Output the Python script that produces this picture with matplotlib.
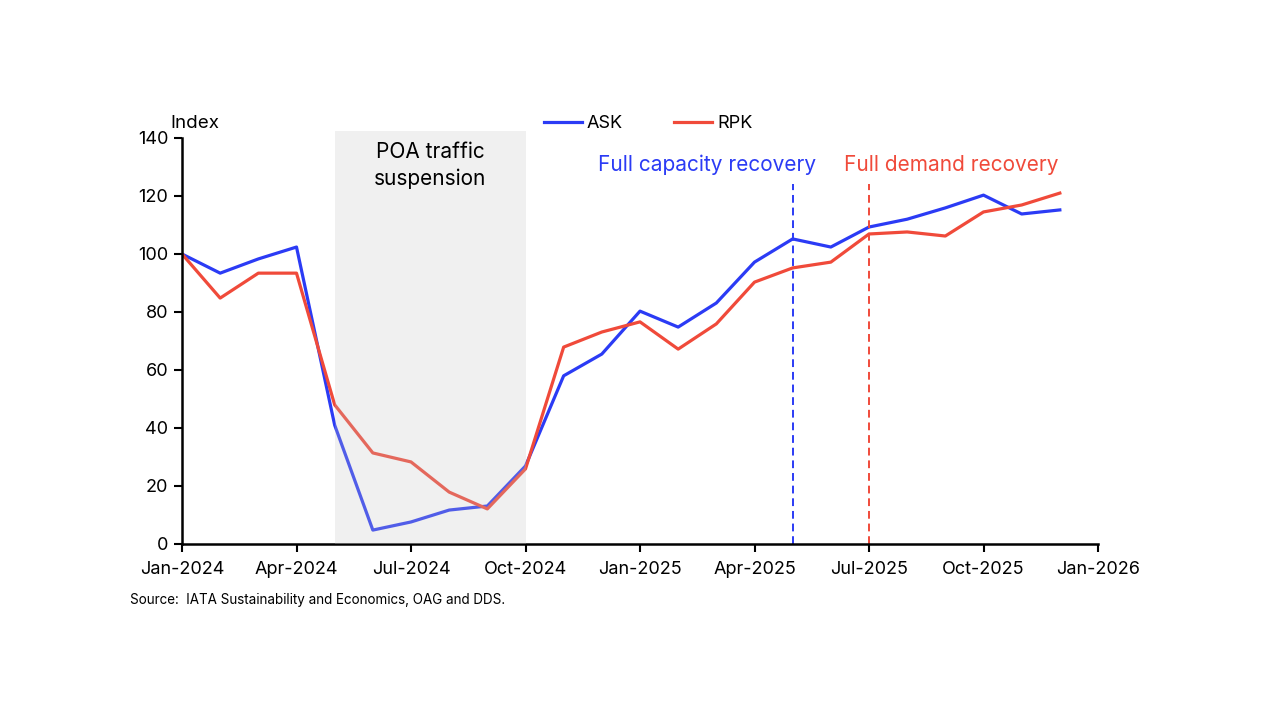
import matplotlib.pyplot as plt

plt.rcParams['font.family'] = ['Inter', 'DejaVu Sans']

# monthly index, Jan-2024 .. Dec-2025
months = ['Jan-2024', 'Feb-2024', 'Mar-2024', 'Apr-2024', 'May-2024', 'Jun-2024',
          'Jul-2024', 'Aug-2024', 'Sep-2024', 'Oct-2024', 'Nov-2024', 'Dec-2024',
          'Jan-2025', 'Feb-2025', 'Mar-2025', 'Apr-2025', 'May-2025', 'Jun-2025',
          'Jul-2025', 'Aug-2025', 'Sep-2025', 'Oct-2025', 'Nov-2025', 'Dec-2025']
ask = [100, 93.4, 98.3, 102.4, 41, 4.8, 7.6, 11.7, 13.1, 26.9, 58, 65.5,
       80.3, 74.8, 83.1, 97.2, 105.2, 102.4, 109.3, 112, 115.9, 120.3, 113.8, 115.2]
rpk = [100, 84.8, 93.4, 93.4, 48, 31.4, 28.3, 17.9, 12.1, 25.9, 67.9, 73.1,
       76.6, 67.2, 75.9, 90.3, 95.2, 97.2, 106.9, 107.6, 106.2, 114.5, 116.9, 121]
tick_labels = ['Jan-2024', 'Apr-2024', 'Jul-2024', 'Oct-2024', 'Jan-2025',
               'Apr-2025', 'Jul-2025', 'Oct-2025', 'Jan-2026']
tick_pos = [0, 3, 6, 9, 12, 15, 18, 21, 24]
suspension = (4, 9)        # May-2024 .. Oct-2024
capacity_rec = 16          # May-2025
demand_rec = 18            # Jul-2025

blue = '#2b3bf5'
red = '#f04a3a'

fig = plt.figure(figsize=(12.8, 7.2), dpi=100)
ax = fig.add_axes([182/1280, 1 - 544/720, 916/1280, (544 - 130.75)/720])

x = list(range(len(months)))
ax.plot(x, ask, color=blue, lw=2.3, label='ASK', zorder=2)
ax.plot(x, rpk, color=red, lw=2.3, label='RPK', zorder=2)

# shaded period drawn over the lines (lines look faded inside it)
ax.axvspan(suspension[0], suspension[1], color='#c4c4c4', alpha=0.25, lw=0, zorder=3)
ax.text((suspension[0] + suspension[1]) / 2, 138.5, 'POA traffic\nsuspension',
        ha='center', va='top', fontsize=15, linespacing=1.4, zorder=4)

ax.plot([capacity_rec, capacity_rec], [0, 124], color=blue, lw=1.4, ls=(0, (4, 2.5)), zorder=2)
ax.plot([demand_rec, demand_rec], [0, 124], color=red, lw=1.4, ls=(0, (4, 2.5)), zorder=2)
ax.text(13.75, 130.8, 'Full capacity recovery', color=blue, ha='center', va='center', fontsize=15)
ax.text(20.15, 130.8, 'Full demand recovery', color=red, ha='center', va='center', fontsize=15)

ax.set_xlim(0, 24)
ax.set_ylim(0, 142.5)
ax.set_xticks(tick_pos)
ax.set_xticklabels(tick_labels)
ax.set_yticks(range(0, 141, 20))
ax.tick_params(axis='both', labelsize=13, width=1.5, length=6, direction='out', pad=6)
ax.tick_params(axis='y', pad=4)

for s in ['top', 'right']:
    ax.spines[s].set_visible(False)
for s in ['left', 'bottom']:
    ax.spines[s].set_linewidth(1.8)
ax.spines['left'].set_bounds(0, 140)

fig.text(170/1280, 1 - 124/720, 'Index', fontsize=13.5, va='center', ha='left')
fig.text(130/1280, 1 - 600/720, 'Source:  IATA Sustainability and Economics, OAG and DDS.',
         fontsize=9.7, va='center', ha='left')

fig.legend(loc='center', bbox_to_anchor=(648/1280, 1 - 123.5/720), ncol=2, frameon=False,
           fontsize=13, handlelength=2.1, handletextpad=0.3, columnspacing=2.8)

fig.savefig('out.png', dpi=100)
